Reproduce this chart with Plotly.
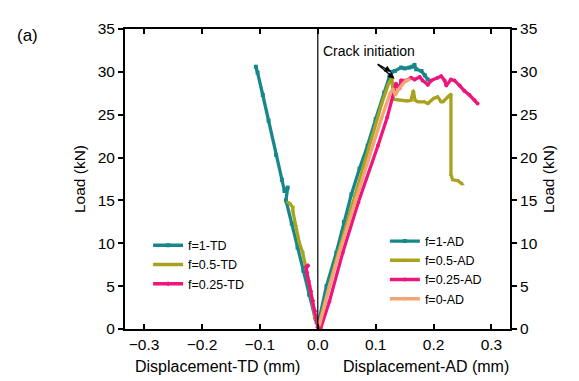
import plotly.graph_objects as go

# ---------------- data ----------------
td1_x = [-0.107, -0.104, -0.095, -0.085, -0.072, -0.062, -0.0575, -0.052, -0.055, -0.045, -0.035, -0.025, -0.015, -0.005, -0.002]
td1_y = [30.6, 29.9, 27.3, 24.3, 20.3, 17.4, 16.1, 16.5, 15.0, 12.3, 9.5, 6.8, 4.0, 1.4, 0.8]

td05_x = [-0.052, -0.048, -0.043, -0.043, -0.038, -0.032, -0.026, -0.020, -0.014, -0.008, -0.004]
td05_y = [14.8, 14.6, 14.2, 13.7, 12.0, 10.1, 8.9, 7.0, 5.0, 2.7, 1.0]

td025_x = [-0.017, -0.020, -0.019, -0.016, -0.012, -0.0086, -0.005, -0.002, 0.0]
td025_y = [7.4, 7.2, 6.6, 5.6, 4.4, 3.3, 2.1, 1.0, 0.2]

ad1_x = [0.002, 0.015, 0.032, 0.045, 0.058, 0.072, 0.086, 0.100, 0.115, 0.124, 0.128, 0.133, 0.144, 0.150, 0.158, 0.163, 0.167, 0.170, 0.179, 0.185, 0.190]
ad1_y = [1.0, 5.0, 8.9, 12.5, 15.7, 18.7, 21.4, 24.5, 27.6, 29.5, 30.0, 30.1, 30.5, 30.4, 30.5, 30.6, 30.8, 30.3, 30.1, 29.6, 29.1]

ad05_x = [0.003, 0.030, 0.060, 0.089, 0.110, 0.122, 0.128, 0.131, 0.140, 0.155, 0.161, 0.165, 0.168, 0.173, 0.184, 0.190, 0.200, 0.207, 0.213, 0.216, 0.225, 0.230, 0.230, 0.233, 0.242, 0.250]
ad05_y = [0.8, 7.6, 14.6, 21.4, 26.2, 28.6, 29.3, 26.8, 26.7, 26.6, 26.7, 27.8, 26.7, 26.5, 26.5, 26.3, 26.9, 27.1, 26.5, 26.5, 27.1, 27.4, 18.0, 17.4, 17.3, 16.9]

ad025_x = [0.005, 0.020, 0.043, 0.070, 0.104, 0.120, 0.132, 0.135, 0.138, 0.141, 0.144, 0.153, 0.161, 0.167, 0.176, 0.181, 0.190, 0.196, 0.207, 0.213, 0.219, 0.222, 0.230, 0.236, 0.245, 0.253, 0.262, 0.271, 0.276]
ad025_y = [0.1, 3.2, 8.9, 14.8, 21.4, 24.7, 27.8, 28.6, 28.3, 28.1, 29.0, 29.0, 29.3, 29.1, 29.4, 29.0, 28.5, 29.0, 29.3, 29.5, 29.0, 28.4, 29.1, 29.0, 28.4, 27.8, 27.3, 26.7, 26.3]

ad0_x = [0.003, 0.020, 0.037, 0.065, 0.095, 0.110, 0.125, 0.130, 0.134, 0.140, 0.147, 0.153, 0.158]
ad0_y = [0.5, 4.9, 8.9, 15.0, 21.4, 24.6, 27.5, 28.0, 27.3, 28.0, 28.6, 29.0, 29.1]

x_ticks = [-0.3, -0.2, -0.1, 0.0, 0.1, 0.2, 0.3]
y_ticks = [0, 5, 10, 15, 20, 25, 30, 35]

TEAL = "#17878a"
OLIVE = "#a9a21f"
PINK = "#ee167c"
ORANGE = "#f3a673"
FONT = "Arial, Liberation Sans, sans-serif"

fig = go.Figure()

def add(x, y, name, color, symbol, legend):
    fig.add_trace(go.Scatter(
        x=x, y=y, name=name, mode="lines+markers",
        line=dict(color=color, width=3.3),
        marker=dict(color=color, size=4, symbol=symbol),
        legend=legend,
    ))

add(td1_x, td1_y, "f=1-TD", TEAL, "square", "legend")
add(td05_x, td05_y, "f=0.5-TD", OLIVE, "triangle-down", "legend")
add(td025_x, td025_y, "f=0.25-TD", PINK, "diamond", "legend")
add(ad1_x, ad1_y, "f=1-AD", TEAL, "square", "legend2")
add(ad05_x, ad05_y, "f=0.5-AD", OLIVE, "triangle-up", "legend2")
add(ad025_x, ad025_y, "f=0.25-AD", PINK, "circle", "legend2")
add(ad0_x, ad0_y, "f=0-AD", ORANGE, "star", "legend2")

# dummy trace for the right y axis
fig.add_trace(go.Scatter(x=[None], y=[None], yaxis="y2", showlegend=False, hoverinfo="skip"))

axis_common = dict(showline=True, linecolor="black", linewidth=2, showgrid=False,
                   zeroline=False, ticklen=5, tickwidth=1.5, tickcolor="black",
                   tickfont=dict(family=FONT, size=15.5, color="black"))

fig.update_layout(
    width=571, height=373,
    margin=dict(l=117, r=69, t=12, b=52),
    paper_bgcolor="white", plot_bgcolor="white",
    font=dict(family=FONT, size=13, color="black"),
    xaxis=dict(range=[-0.333, 0.332], tickvals=x_ticks, tickformat=".1f",
               ticks="inside", mirror="ticks", **axis_common),
    yaxis=dict(range=[0, 35], tickvals=y_ticks, ticks="outside",
               title=dict(text="Load (kN)", font=dict(family=FONT, size=15.5), standoff=8),
               **axis_common),
    yaxis2=dict(range=[0, 35], tickvals=y_ticks, ticks="outside", overlaying="y", side="right",
                title=dict(text="Load (kN)", font=dict(family=FONT, size=15.5), standoff=6),
                **axis_common),
    legend=dict(x=0.06, y=0.328, xanchor="left", yanchor="top", bgcolor="rgba(0,0,0,0)",
                font=dict(family=FONT, size=12.5), tracegroupgap=0, itemwidth=30),
    legend2=dict(x=0.675, y=0.342, xanchor="left", yanchor="top", bgcolor="rgba(0,0,0,0)",
                 font=dict(family=FONT, size=12.5), tracegroupgap=0, itemwidth=30),
    showlegend=True,
)

fig.add_shape(type="line", x0=0, x1=0, y0=0, y1=35, xref="x", yref="y",
              line=dict(color="black", width=1.2))

fig.add_annotation(text="Displacement-TD (mm)", x=-0.173, y=-0.126, xref="x", yref="paper",
                   showarrow=False, font=dict(family=FONT, size=16), yanchor="middle")
fig.add_annotation(text="Displacement-AD (mm)", x=0.187, y=-0.126, xref="x", yref="paper",
                   showarrow=False, font=dict(family=FONT, size=16), yanchor="middle")
fig.add_annotation(text="(a)", x=-0.252, y=0.98, xref="paper", yref="paper",
                   showarrow=False, font=dict(family=FONT, size=17), xanchor="center", yanchor="middle")
fig.add_annotation(text="Crack initiation", x=0.0893, y=32.4, xref="x", yref="y",
                   showarrow=False, font=dict(family=FONT, size=14))
for hx, hy in [(0.1268, 30.0), (0.1325, 29.2)]:
    fig.add_annotation(text="", x=hx, y=hy, ax=0.1009, ay=31.0, xref="x", yref="y",
                       axref="x", ayref="y", showarrow=True, arrowhead=2, arrowsize=1,
                       arrowwidth=1.3, arrowcolor="black")

fig.write_html("out.html")
